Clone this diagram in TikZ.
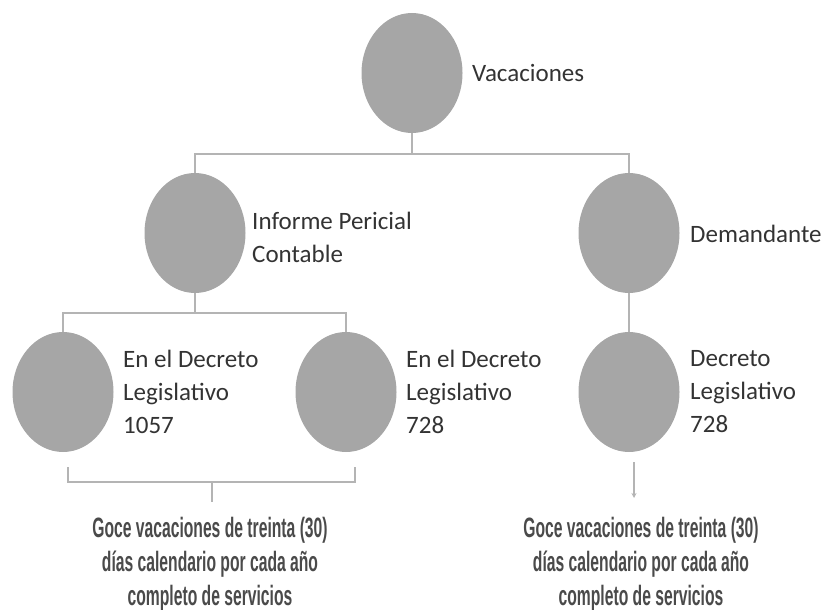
\documentclass[tikz,border=0pt]{standalone}
\usepackage{fontspec}
\setmainfont{Carlito}
\newfontfamily\condfont[FakeStretch=0.56]{Liberation Sans Bold}
\usetikzlibrary{shapes.geometric,arrows.meta}
\definecolor{ballgray}{HTML}{A6A6A6}
\definecolor{linegray}{HTML}{B4B4B4}
\definecolor{txtgray}{HTML}{333333}
\definecolor{gocegray}{HTML}{4A4A4A}
\begin{document}
\begin{tikzpicture}[x=1pt,y=-1pt,
  ball/.style={ellipse,fill=ballgray,minimum width=101pt,minimum height=120pt,inner sep=0pt},
  lbl/.style={anchor=west,align=left,inner sep=0pt,text=txtgray,font=\fontsize{25}{33}\selectfont},
  goce/.style={align=center,inner sep=0pt,text=gocegray,font=\condfont\fontsize{28}{34}\selectfont},
  conn/.style={draw=linegray,line width=1.3pt}]
\useasboundingbox (0,0) rectangle (827,610);
\node[ball] (v) at (412,73) {};
\node[lbl] (tv) at (472,73) {Vacaciones};
\node[ball] (inf) at (195,233) {};
\node[lbl] (tinf) at (252,237) {Informe Pericial\\Contable};
\node[ball] (dem) at (629,233) {};
\node[lbl] (tdem) at (690,234) {Demandante};
\node[ball] (b1) at (63,392) {};
\node[lbl] (tb1) at (123,392) {En el Decreto\\Legislativo\\1057};
\node[ball] (b2) at (346,392) {};
\node[lbl] (tb2) at (406,392) {En el Decreto\\Legislativo\\728};
\node[ball] (b3) at (629,392) {};
\node[lbl] (tb3) at (690,392) {Decreto\\Legislativo\\728};
\node[goce] (g1) at (210,564) {Goce vacaciones de treinta (30)\\días calendario por cada año\\completo de servicios};
\node[goce] (g2) at (641,564) {Goce vacaciones de treinta (30)\\días calendario por cada año\\completo de servicios};
\coordinate (j1) at (412,154);
\coordinate (j2) at (195,313);
\draw[conn] (v) -- (j1);
\draw[conn] (inf.north) |- (j1) -| (dem.north);
\draw[conn] (inf) -- (j2);
\draw[conn] (b1.north) |- (j2) -| (b2.north);
\draw[conn] (dem) -- (b3);
\coordinate (bl) at (68,467);
\coordinate (br) at (355,467);
\coordinate (bm) at (212,482);
\coordinate (bt) at (212,502);
\draw[conn] (bl) |- (bm) -| (br);
\draw[conn] (bm) -- (bt);
\coordinate (a1) at (634,462);
\coordinate (a2) at (634,498);
\draw[conn,-{Stealth[length=5pt,width=5pt]}] (a1) -- (a2);
\end{tikzpicture}
\end{document}
